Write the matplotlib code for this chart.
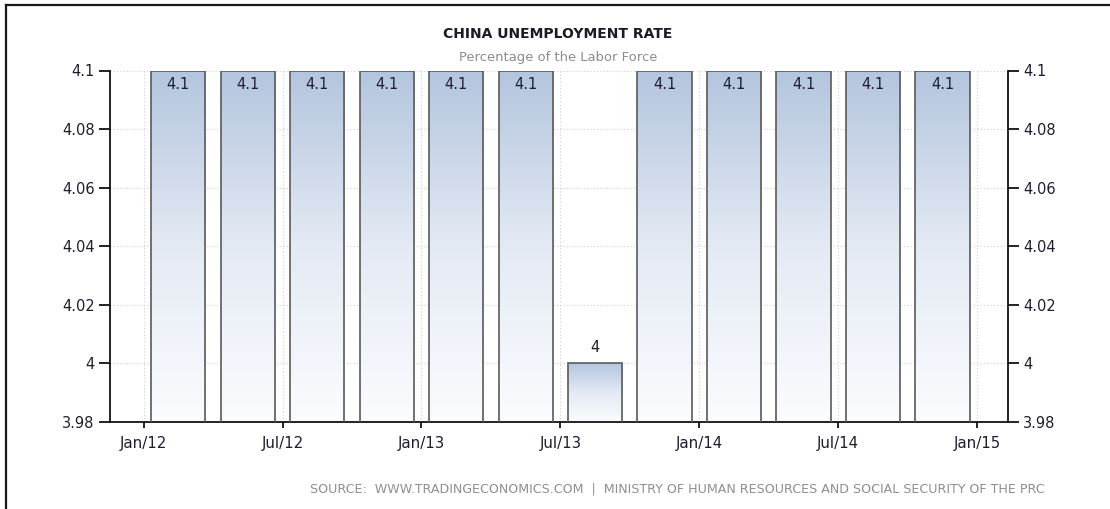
import numpy as np
import matplotlib
matplotlib.use('Agg')
import matplotlib.pyplot as plt
from matplotlib.lines import Line2D
from matplotlib.colors import LinearSegmentedColormap

plt.rcParams['font.family'] = ['DejaVu Sans']

# ---- data ----
quarters = ['2012Q1', '2012Q2', '2012Q3', '2012Q4',
            '2013Q1', '2013Q2', '2013Q3', '2013Q4',
            '2014Q1', '2014Q2', '2014Q3', '2014Q4']
values = [4.1, 4.1, 4.1, 4.1, 4.1, 4.1, 4.0, 4.1, 4.1, 4.1, 4.1, 4.1]
value_labels = ['4.1', '4.1', '4.1', '4.1', '4.1', '4.1', '4', '4.1', '4.1', '4.1', '4.1', '4.1']
x_tick_months = [0, 6, 12, 18, 24, 30, 36]
x_tick_labels = ['Jan/12', 'Jul/12', 'Jan/13', 'Jul/13', 'Jan/14', 'Jul/14', 'Jan/15']
y_ticks = [3.98, 4.00, 4.02, 4.04, 4.06, 4.08, 4.10]
y_tick_labels = ['3.98', '4', '4.02', '4.04', '4.06', '4.08', '4.1']

title = 'CHINA UNEMPLOYMENT RATE'
subtitle = 'Percentage of the Labor Force'
source = 'SOURCE:  WWW.TRADINGECONOMICS.COM  |  MINISTRY OF HUMAN RESOURCES AND SOCIAL SECURITY OF THE PRC'

# month offset (from Jan 2012) of the middle of each quarter
def quarter_mid(q):
    year = int(q[:4]); qn = int(q[-1])
    return (year - 2012) * 12 + (qn - 1) * 3 + 1.5

xpos = [quarter_mid(q) for q in quarters]

W, H = 1110, 509
fig = plt.figure(figsize=(W / 100, H / 100), dpi=100)
fig.patch.set_facecolor('white')

ax = fig.add_axes([110 / W, 1 - 422 / H, (1008 - 110) / W, (422 - 70.5) / H])

txt_color = '#1e1e30'

ax.set_yticks(y_ticks)
ax.set_yticklabels(y_tick_labels)
ax.set_xticks(x_tick_months)
ax.set_xticklabels(x_tick_labels)
ax.grid(True, color='#cfcfcf', linestyle=(0, (1, 2)), linewidth=0.8, zorder=0)
ax.set_axisbelow(True)

# bars with per-bar vertical gradient
bar_width = 2.34
cmap = LinearSegmentedColormap.from_list('tebar', ['#fbfcfe', '#e4eaf4', '#b3c5de'])
grad = np.linspace(0, 1, 256).reshape(-1, 1)
y0 = 3.98
bars = ax.bar(xpos, values, width=bar_width, bottom=0, facecolor='none',
              edgecolor='#5a5a5a', linewidth=1.2, zorder=3)
for b, v in zip(bars, values):
    x0 = b.get_x()
    ax.imshow(grad, cmap=cmap, aspect='auto', origin='lower',
              extent=[x0, x0 + b.get_width(), y0, v], zorder=2,
              interpolation='bilinear')
ax.set_xlim(-1.45, 37.33)
ax.set_ylim(3.98, 4.10)

# value labels
ytop = ax.get_ylim()[1]
for x, v, lab in zip(xpos, values, value_labels):
    if v + 0.004 > ytop:
        ax.annotate(lab, (x, v), xytext=(0, -10), textcoords='offset points',
                    ha='center', va='center', fontsize=10.5, color=txt_color, zorder=5)
    else:
        ax.annotate(lab, (x, v), xytext=(0, 11.5), textcoords='offset points',
                    ha='center', va='center', fontsize=10.5, color=txt_color, zorder=5)

# spines / ticks
for s in ['left', 'right', 'bottom']:
    ax.spines[s].set_color('#111111')
    ax.spines[s].set_linewidth(1.3)
ax.spines['top'].set_visible(False)
ax.yaxis.set_ticks_position('both')
ax.tick_params(axis='y', which='both', direction='out', length=8, width=1.3,
               colors='#111111', labelcolor=txt_color, labelsize=10.5, pad=3,
               labelleft=True, labelright=True)
ax.tick_params(axis='x', direction='out', length=4, width=1.3,
               colors='#111111', labelcolor=txt_color, labelsize=10.8, pad=6)

# titles, sized to fit the reference widths
renderer = fig.canvas.get_renderer()

def fitted_text(x, y, s, target_px, base, **kw):
    t = fig.text(x, y, s, fontsize=base, **kw)
    w = t.get_window_extent(renderer).width
    t.set_fontsize(base * target_px / w)
    return t

fitted_text(558 / W, 1 - 34 / H, title, 230, 10, ha='center', va='center',
            color='#1a1a28', fontweight='bold')
fitted_text(558 / W, 1 - 58 / H, subtitle, 198, 8, ha='center', va='center', color='#8c8c8c')
fitted_text(1045 / W, 1 - 489 / H, source, 735, 7, ha='right', va='center', color='#8f8f8f')

# outer frame (top and left edges)
fig.add_artist(Line2D([6 / W, 1.0], [1 - 5 / H, 1 - 5 / H], transform=fig.transFigure,
                      color='#1a1a1a', linewidth=1.6))
fig.add_artist(Line2D([6 / W, 6 / W], [1 - 5 / H, 0.0], transform=fig.transFigure,
                      color='#1a1a1a', linewidth=1.6))

fig.savefig('out.png', dpi=100, facecolor='white')
